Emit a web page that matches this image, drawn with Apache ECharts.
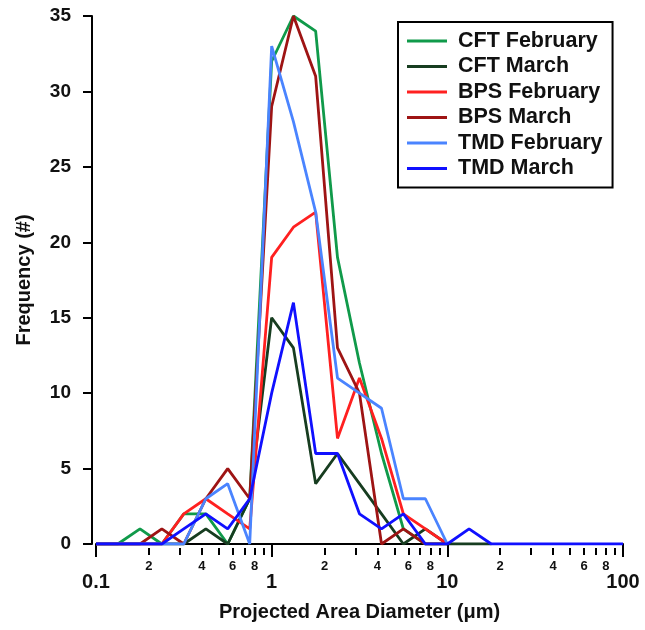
<!DOCTYPE html>
<html>
<head>
<meta charset="utf-8">
<script src="https://cdn.jsdelivr.net/npm/echarts@6/dist/echarts.min.js"></script>
<style>
html,body{margin:0;padding:0;background:#fff;}
#chart{width:645px;height:630px;}
</style>
</head>
<body>
<div id="chart"></div>
<script>
// particle size bins (µm), log spaced
var sizes = [0.1, 0.133, 0.178, 0.237, 0.316, 0.422, 0.562, 0.75, 1, 1.33, 1.78, 2.37, 3.16,
	4.22, 5.62, 7.5, 10, 13.3, 17.8, 23.7, 31.6, 42.2, 56.2, 75, 100];

var cftFeb = [0, 0, 1, 0, 2, 2, 0, 3, 32, 35, 34, 19, 12, 6, 1, 0, 0];
var cftMar = [0, 0, 0, 0, 0, 1, 0, 3, 15, 13, 4, 6, 4, 2, 0, 1, 0, 0, 0];
var bpsFeb = [0, 0, 0, 0, 2, 3, 2, 1, 19, 21, 22, 7, 11, 7, 2, 1, 0];
var bpsMar = [0, 0, 0, 1, 0, 3, 5, 3, 29, 35, 31, 13, 10, 0, 1, 0, 0];
var tmdFeb = [0, 0, 0, 0, 0, 3, 4, 0, 33, 28, 22, 11, 10, 9, 3, 3, 0];
var tmdMar = [0, 0, 0, 0, 1, 2, 1, 3, 10, 16, 6, 6, 2, 1, 2, 0, 0, 1, 0, 0, 0, 0, 0, 0, 0];

var majorTicks = [0.1, 1, 10, 100];
var minorTicks = [0.2, 0.3, 0.4, 0.5, 0.6, 0.7, 0.8, 0.9, 2, 3, 4, 5, 6, 7, 8, 9,
	20, 30, 40, 50, 60, 70, 80, 90];
var minorLabels = [0.2, 0.4, 0.6, 0.8, 2, 4, 6, 8, 20, 40, 60, 80];

var font = "'Liberation Sans', Arial, sans-serif";

function pairs(vals){
	var out = [];
	for (var i = 0; i < vals.length; i++) out.push([sizes[i], vals[i]]);
	return out;
}
function mkSeries(name, vals, color){
	return {
		name: name, type: 'line', data: pairs(vals),
		symbol: 'none', lineStyle: {color: color, width: 2.8},
		itemStyle: {color: color}, animation: false
	};
}

var myChart = echarts.init(document.getElementById('chart'));
myChart.setOption({
	backgroundColor: '#fff',
	grid: {left: 96, right: 22, top: 16, bottom: 86},
	legend: {
		orient: 'vertical', left: 398, top: 22,
		borderColor: '#000', borderWidth: 2,
		padding: [8, 10, 8, 9],
		icon: 'rect', itemWidth: 40, itemHeight: 3, itemGap: 3.5,
		textStyle: {fontFamily: font, fontWeight: 'bold', fontSize: 21.5, lineHeight: 20, color: '#111', padding: [0, 0, 0, 6]}
	},
	xAxis: [
		{
			type: 'log', logBase: 10, min: 0.1, max: 100, offset: 4,
			name: 'Projected Area Diameter (\u03bcm)', nameLocation: 'middle', nameGap: 54,
			nameTextStyle: {fontFamily: font, fontWeight: 'bold', fontSize: 20, color: '#111'},
			axisLine: {lineStyle: {color: '#000', width: 2}},
			axisTick: {customValues: majorTicks, length: 13, lineStyle: {width: 2, color: '#000'}},
			axisLabel: {customValues: majorTicks, margin: 24, fontFamily: font, fontWeight: 'bold', fontSize: 20, color: '#111',
				formatter: function(v){ return String(Math.round(v * 10) / 10); }},
			splitLine: {show: false}, minorTick: {show: false}
		},
		{
			type: 'log', logBase: 10, min: 0.1, max: 100, offset: 4, position: 'bottom',
			axisLine: {show: false},
			axisTick: {customValues: minorTicks, length: 7, lineStyle: {width: 2, color: '#000'}},
			axisLabel: {customValues: minorLabels, margin: 12, fontFamily: font, fontWeight: 'bold', fontSize: 13, color: '#111',
				formatter: function(v){
					var p = Math.pow(10, Math.floor(Math.log10(v) + 1e-9));
					return String(Math.round(v / p));
				}},
			splitLine: {show: false}
		}
	],
	yAxis: {
		type: 'value', min: 0, max: 35, interval: 5, offset: 4,
		name: 'Frequency (#)', nameLocation: 'middle', nameGap: 58,
		nameTextStyle: {fontFamily: font, fontWeight: 'bold', fontSize: 20, color: '#111'},
		axisLine: {show: true, lineStyle: {color: '#000', width: 2}},
		axisTick: {show: true, length: 9, lineStyle: {width: 2, color: '#000'}},
		axisLabel: {margin: 21, fontFamily: font, fontWeight: 'bold', fontSize: 19, color: '#111'},
		splitLine: {show: false}
	},
	series: [
		mkSeries('CFT February', cftFeb, '#109a4a'),
		mkSeries('CFT March', cftMar, '#173d20'),
		mkSeries('BPS February', bpsFeb, '#ff2020'),
		mkSeries('BPS March', bpsMar, '#9e1414'),
		mkSeries('TMD February', tmdFeb, '#4a84ff'),
		mkSeries('TMD March', tmdMar, '#1010ff')
	]
});
</script>
</body>
</html>
